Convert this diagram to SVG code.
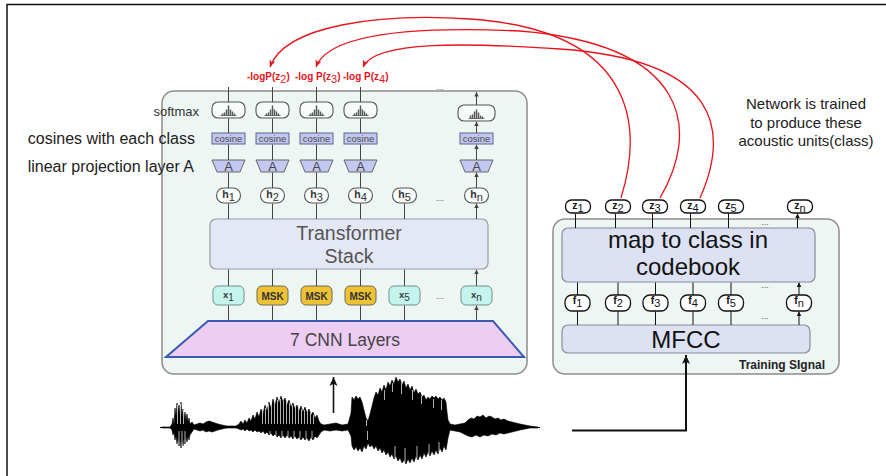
<svg xmlns="http://www.w3.org/2000/svg" width="886" height="476" viewBox="0 0 886 476">
  <defs>
    <style>
      text { font-family: "Liberation Sans", Arial, sans-serif; }
      .panel { fill: #eef6f3; stroke: #8c8c8c; stroke-width: 1.5; }
      .lnk { stroke: #444; stroke-width: 1; fill: none; marker-end: url(#ah); }
      .lnkb { stroke: #111; stroke-width: 1; fill: none; marker-end: url(#ahb); }
      .red { stroke: #e8141c; stroke-width: 1.3; fill: none; marker-end: url(#ahr); }
      .sm { fill: #f7fbf9; stroke: #555; stroke-width: 1.1; }
      .cos { fill: #c2c7f0; stroke: #5f658f; stroke-width: 1; }
      .cost { font-size: 9.5px; fill: #4a4a4a; text-anchor: middle; }
      .trap { fill: #c3c8f1; stroke: #666; stroke-width: 1; }
      .at { font-size: 13px; fill: #444; text-anchor: middle; }
      .hn { fill: #f7fbf9; stroke: #555; stroke-width: 1.1; }
      .lbl { font-size: 10.5px; font-weight: bold; fill: #333; text-anchor: middle; }
      .sub { font-weight: normal; font-size: 11px; }
      .xn { fill: #c4f4ee; stroke: #6f8f8c; stroke-width: 1; }
      .msk { fill: #efc233; stroke: #6b6b5a; stroke-width: 1; }
      .zn { fill: #ffffff; stroke: #111; stroke-width: 1.3; }
      .blk { font-size: 10.5px; font-weight: bold; fill: #111; text-anchor: middle; }
      .dots { font-size: 9px; fill: #555; text-anchor: middle; }
      .side { font-size: 16px; fill: #222; text-anchor: end; }
      .rl { font-size: 10px; font-weight: bold; fill: #e8141c; }
      .gap { stroke: #fff; stroke-width: 0.7; fill: none; }
    </style>
    <marker id="ah" viewBox="0 0 6 6" refX="6" refY="3" markerWidth="4.5" markerHeight="4.5" markerUnits="userSpaceOnUse" orient="auto">
      <path d="M0,0 L6,3 L0,6 z" fill="#444"/>
    </marker>
    <marker id="ahb" viewBox="0 0 6 6" refX="6" refY="3" markerWidth="4.5" markerHeight="4.5" markerUnits="userSpaceOnUse" orient="auto">
      <path d="M0,0 L6,3 L0,6 z" fill="#111"/>
    </marker>
    <marker id="ahr" viewBox="0 0 8 8" refX="8" refY="4" markerWidth="7" markerHeight="7" markerUnits="userSpaceOnUse" orient="auto">
      <path d="M0,0.5 L8,4 L0,7.5 L2,4 z" fill="#e8141c"/>
    </marker>
    <marker id="ahbig" viewBox="0 0 10 10" refX="10" refY="5" markerWidth="9" markerHeight="9" markerUnits="userSpaceOnUse" orient="auto">
      <path d="M0,0.5 L10,5 L0,9.5 L2.5,5 z" fill="#111"/>
    </marker>
    <!-- small histogram glyph drawn inside a softmax node -->
    <g id="bars" stroke="#555" fill="none">
      <path d="M-8 5.5 H8" stroke-width="0.8"/>
      <path d="M-6 5.5v-2 M-4 5.5v-3 M-2 5.5v-6 M0 5.5v-10 M2 5.5v-6 M4 5.5v-4 M6 5.5v-2" stroke-width="1.4"/>
    </g>
    <g id="bars2" stroke="#555" fill="none">
      <path d="M-8 5.5 H8" stroke-width="0.8"/>
      <path d="M-6 5.5v-3 M-4 5.5v-4 M-2 5.5v-7 M0 5.5v-9 M2 5.5v-6 M4 5.5v-3 M6 5.5v-2" stroke-width="1.4"/>
    </g>
  </defs>

  <rect width="886" height="476" fill="#ffffff"/>
  <!-- page frame -->
  <path d="M7 476 V4.5 H886" fill="none" stroke="#111" stroke-width="1.5"/>

  <!-- encoder panel -->
  <g id="encoder-panel">
    <rect class="panel" x="162" y="91" width="365" height="283" rx="12"/>
  </g>

  <!-- side captions -->
  <g id="captions">
    <text class="side" x="199" y="116" style="font-size:13px;fill:#333">softmax</text>
    <text class="side" x="195" y="144">cosines with each class</text>
    <text class="side" x="194" y="172">linear projection layer A</text>
  </g>

  <!-- softmax nodes -->
  <g id="softmax-1"><rect class="sm" x="212" y="102" width="33" height="16" rx="6"/><use href="#bars" x="228.5" y="110"/></g>
  <g id="softmax-2"><rect class="sm" x="256" y="102" width="33" height="16" rx="6"/><use href="#bars" x="272.5" y="110"/></g>
  <g id="softmax-3"><rect class="sm" x="300" y="102" width="33" height="16" rx="6"/><use href="#bars" x="316.5" y="110"/></g>
  <g id="softmax-4"><rect class="sm" x="344" y="102" width="33" height="16" rx="6"/><use href="#bars" x="360.5" y="110"/></g>
  <g id="softmax-n"><rect class="sm" x="458" y="105" width="37" height="16" rx="6"/><use href="#bars2" x="476.5" y="113"/></g>

  <!-- cosine nodes -->
  <g id="cosine-1"><rect class="cos" x="212" y="133" width="33" height="11"/><text class="cost" x="228.5" y="141.8">cosine</text></g>
  <g id="cosine-2"><rect class="cos" x="256" y="133" width="33" height="11"/><text class="cost" x="272.5" y="141.8">cosine</text></g>
  <g id="cosine-3"><rect class="cos" x="300" y="133" width="33" height="11"/><text class="cost" x="316.5" y="141.8">cosine</text></g>
  <g id="cosine-4"><rect class="cos" x="344" y="133" width="33" height="11"/><text class="cost" x="360.5" y="141.8">cosine</text></g>
  <g id="cosine-n"><rect class="cos" x="460" y="133" width="33" height="11"/><text class="cost" x="476.5" y="141.8">cosine</text></g>

  <!-- projection layer A -->
  <g id="proj-1"><polygon class="trap" points="212,160 245,160 240,172 217,172"/><text class="at" x="228.5" y="171">A</text></g>
  <g id="proj-2"><polygon class="trap" points="256,160 289,160 284,172 261,172"/><text class="at" x="272.5" y="171">A</text></g>
  <g id="proj-3"><polygon class="trap" points="300,160 333,160 328,172 305,172"/><text class="at" x="316.5" y="171">A</text></g>
  <g id="proj-4"><polygon class="trap" points="344,160 377,160 372,172 349,172"/><text class="at" x="360.5" y="171">A</text></g>
  <g id="proj-n"><polygon class="trap" points="460,160 493,160 488,172 465,172"/><text class="at" x="476.5" y="171">A</text></g>

  <!-- hidden states h -->
  <g id="h-1"><rect class="hn" x="216.5" y="188" width="24" height="15" rx="7.5"/><text class="lbl" x="228.5" y="198">h<tspan class="sub" dy="3">1</tspan></text></g>
  <g id="h-2"><rect class="hn" x="260.5" y="188" width="24" height="15" rx="7.5"/><text class="lbl" x="272.5" y="198">h<tspan class="sub" dy="3">2</tspan></text></g>
  <g id="h-3"><rect class="hn" x="304.5" y="188" width="24" height="15" rx="7.5"/><text class="lbl" x="316.5" y="198">h<tspan class="sub" dy="3">3</tspan></text></g>
  <g id="h-4"><rect class="hn" x="348.5" y="188" width="24" height="15" rx="7.5"/><text class="lbl" x="360.5" y="198">h<tspan class="sub" dy="3">4</tspan></text></g>
  <g id="h-5"><rect class="hn" x="392.5" y="188" width="24" height="15" rx="7.5"/><text class="lbl" x="404.5" y="198">h<tspan class="sub" dy="3">5</tspan></text></g>
  <g id="h-n"><rect class="hn" x="464.5" y="188" width="24" height="15" rx="7.5"/><text class="lbl" x="476.5" y="198">h<tspan class="sub" dy="3">n</tspan></text></g>

  <!-- transformer -->
  <g id="transformer">
    <rect x="210" y="219" width="278" height="50" rx="6" fill="#e3e8f4" stroke="#9a9aa6" stroke-width="1.2"/>
    <text x="349" y="240" text-anchor="middle" style="font-size:19.5px;fill:#555">Transformer</text>
    <text x="349" y="263" text-anchor="middle" style="font-size:19.5px;fill:#555">Stack</text>
  </g>

  <!-- inputs x / masked -->
  <g id="x-1"><rect class="xn" x="213" y="286" width="31" height="19" rx="5"/><text class="lbl" x="228.5" y="297.5" style="font-size:9.5px">x<tspan class="sub" dy="3" style="font-size:10px">1</tspan></text></g>
  <g id="msk-2"><rect class="msk" x="257" y="286" width="31" height="19" rx="5"/><text class="lbl" x="272.5" y="299.5" style="font-size:10px">MSK</text></g>
  <g id="msk-3"><rect class="msk" x="301" y="286" width="31" height="19" rx="5"/><text class="lbl" x="316.5" y="299.5" style="font-size:10px">MSK</text></g>
  <g id="msk-4"><rect class="msk" x="345" y="286" width="31" height="19" rx="5"/><text class="lbl" x="360.5" y="299.5" style="font-size:10px">MSK</text></g>
  <g id="x-5"><rect class="xn" x="389" y="286" width="31" height="19" rx="5"/><text class="lbl" x="404.5" y="297.5" style="font-size:9.5px">x<tspan class="sub" dy="3" style="font-size:10px">5</tspan></text></g>
  <g id="x-n"><rect class="xn" x="461" y="286" width="31" height="19" rx="5"/><text class="lbl" x="476.5" y="297.5" style="font-size:9.5px">x<tspan class="sub" dy="3" style="font-size:10px">n</tspan></text></g>

  <!-- feature encoder -->
  <g id="cnn">
    <polygon points="208,321 493,321 524,357 166,357" fill="#eecdf2" stroke="#3a5bb5" stroke-width="2"/>
    <text x="345" y="346" text-anchor="middle" style="font-size:17.5px;fill:#444">7 CNN Layers</text>
  </g>

  <!-- ellipses in encoder -->
  <g id="ellipses-left">
    <text class="dots" x="440" y="90">...</text>
    <text class="dots" x="440" y="201">...</text>
    <text class="dots" x="440" y="299">...</text>
  </g>

  <!-- loss labels -->
  <g id="loss-labels">
    <text class="rl" x="247" y="80">-logP(z<tspan class="sub" dy="3">2</tspan><tspan dy="-3">)</tspan></text>
    <text class="rl" x="295" y="80">-log P(z<tspan class="sub" dy="3">3</tspan><tspan dy="-3">)</tspan></text>
    <text class="rl" x="343" y="80">-log P(z<tspan class="sub" dy="3">4</tspan><tspan dy="-3">)</tspan></text>
  </g>

  <!-- target panel -->
  <g id="target-panel">
    <rect class="panel" x="553" y="219" width="286" height="155" rx="12"/>
    <text x="825" y="369" text-anchor="end" style="font-size:12px;font-weight:bold;fill:#222">Training SIgnal</text>
  </g>

  <g id="z-1"><rect class="zn" x="565.5" y="200" width="25" height="13" rx="6"/><text class="blk" x="578" y="209">z<tspan class="sub" dy="3">1</tspan></text></g>
  <g id="z-2"><rect class="zn" x="605.5" y="200" width="25" height="13" rx="6"/><text class="blk" x="618" y="209">z<tspan class="sub" dy="3">2</tspan></text></g>
  <g id="z-3"><rect class="zn" x="642.5" y="200" width="25" height="13" rx="6"/><text class="blk" x="655" y="209">z<tspan class="sub" dy="3">3</tspan></text></g>
  <g id="z-4"><rect class="zn" x="680.5" y="200" width="25" height="13" rx="6"/><text class="blk" x="693" y="209">z<tspan class="sub" dy="3">4</tspan></text></g>
  <g id="z-5"><rect class="zn" x="718.5" y="200" width="25" height="13" rx="6"/><text class="blk" x="731" y="209">z<tspan class="sub" dy="3">5</tspan></text></g>
  <g id="z-n"><rect class="zn" x="787.5" y="200" width="25" height="13" rx="6"/><text class="blk" x="800" y="209">z<tspan class="sub" dy="3">n</tspan></text></g>

  <g id="codebook">
    <rect x="562" y="228" width="253" height="54" rx="6" fill="#dde1f4" stroke="#8a8a9a" stroke-width="1.2"/>
    <text x="688" y="248" text-anchor="middle" style="font-size:24px;fill:#111">map to class in</text>
    <text x="688" y="275" text-anchor="middle" style="font-size:24px;fill:#111">codebook</text>
  </g>

  <g id="f-1"><rect class="zn" x="565" y="295" width="25" height="16" rx="7"/><text class="blk" x="577.5" y="304">f<tspan class="sub" dy="3">1</tspan></text></g>
  <g id="f-2"><rect class="zn" x="605.5" y="295" width="25" height="16" rx="7"/><text class="blk" x="618" y="304">f<tspan class="sub" dy="3">2</tspan></text></g>
  <g id="f-3"><rect class="zn" x="643" y="295" width="25" height="16" rx="7"/><text class="blk" x="655.5" y="304">f<tspan class="sub" dy="3">3</tspan></text></g>
  <g id="f-4"><rect class="zn" x="680.5" y="295" width="25" height="16" rx="7"/><text class="blk" x="693" y="304">f<tspan class="sub" dy="3">4</tspan></text></g>
  <g id="f-5"><rect class="zn" x="718.5" y="295" width="25" height="16" rx="7"/><text class="blk" x="731" y="304">f<tspan class="sub" dy="3">5</tspan></text></g>
  <g id="f-n"><rect class="zn" x="786.5" y="295" width="25" height="16" rx="7"/><text class="blk" x="799" y="304">f<tspan class="sub" dy="3">n</tspan></text></g>

  <g id="mfcc">
    <rect x="562" y="325" width="248" height="28" rx="6" fill="#dde1f4" stroke="#8a8a9a" stroke-width="1.2"/>
    <text x="686" y="348" text-anchor="middle" style="font-size:24px;fill:#111">MFCC</text>
  </g>

  <g id="ellipses-right">
    <text class="dots" x="765" y="225">...</text>
    <text class="dots" x="765" y="288">...</text>
    <text class="dots" x="765" y="319">...</text>
  </g>

  <g id="note">
    <text x="806" y="109" text-anchor="middle" style="font-size:15px;fill:#222">Network is trained</text>
    <text x="806" y="127.5" text-anchor="middle" style="font-size:15px;fill:#222">to produce these</text>
    <text x="806" y="146" text-anchor="middle" style="font-size:15px;fill:#222">acoustic units(class)</text>
  </g>

  <!-- speech waveform -->
  <g id="waveform">
    <path fill="#000" stroke="#000" stroke-width="0.6" stroke-linejoin="miter" d="M162 427 L170 427 172 424 173 418 174 425 175 408 176 416 177 403 178 412 179 405 180 414 181 402 182 416 183 409 184 419 185 412 186 421 187 414 188 422 189 418 190 424 192 422 194 425 197 424 200 423 203 424 206 422 209 421 212 422 215 423 218 424 222 425 227 426 236 426 239 424 241 421 243 424 245 420 247 423 249 418 251 421 253 415 255 419 257 412 259 417 261 409 263 414 265 405 267 411 269 402 271 408 273 399 275 405 277 397 279 403 281 396 283 402 285 398 287 405 289 400 291 407 293 403 295 409 297 405 299 411 301 406 303 412 305 407 307 413 309 409 311 415 313 412 315 418 317 415 319 421 321 424 324 425 330 424 336 423 342 425 348 424 351 413 352 397 354 400 356 396 358 399 360 397 362 402 364 410 366 418 368 421 370 414 372 406 374 398 376 392 378 395 380 388 382 392 384 385 386 390 388 382 390 386 392 380 394 384 396 377 398 382 400 379 402 385 404 381 406 388 408 384 410 390 412 386 414 393 416 389 418 394 420 392 422 397 424 395 426 400 428 397 430 399 432 396 434 398 436 396 438 399 440 397 442 400 444 398 446 402 447 412 448 420 450 424 455 425 460 424 465 423 468 420 471 418 474 419 477 416 480 417 483 415 486 418 489 416 492 417 495 419 498 418 501 420 504 419 508 421 512 422 516 423 520 424 525 425 530 426 538 427 L538 428 530 428 525 429 520 430 516 431 512 432 508 433 504 434 500 433 496 435 492 434 488 436 484 435 480 437 476 435 472 437 468 436 464 434 460 432 455 431 450 430 448 438 446 450 444 446 442 452 440 448 438 454 436 450 434 455 432 451 430 456 428 452 426 457 424 453 422 459 420 455 418 460 416 456 414 462 412 458 410 463 408 459 406 464 404 460 402 463 400 458 398 461 396 456 394 459 392 454 390 457 388 452 386 455 384 450 382 453 380 448 378 451 376 446 374 449 372 445 370 447 368 443 366 449 364 446 362 452 360 448 358 451 356 447 354 450 352 446 351 436 348 430 342 431 336 430 330 431 324 430 321 432 319 435 317 438 315 436 313 440 311 437 309 441 307 438 305 440 303 437 301 440 299 437 297 439 295 436 293 439 291 436 289 438 287 435 285 438 283 435 281 438 279 435 277 437 275 434 273 436 271 433 269 435 267 432 265 434 263 431 261 433 259 431 257 432 255 430 253 432 251 430 249 431 247 429 245 431 243 429 241 430 239 429 236 428 227 428 222 429 218 430 215 431 212 432 209 431 206 432 203 430 200 431 197 430 194 429 192 432 190 435 189 440 188 436 187 442 186 437 185 444 184 439 183 446 182 441 181 448 180 440 179 446 178 438 177 444 176 436 175 440 174 432 173 435 172 430 170 428 162 428 Z"/>
    <!-- striations inside the louder segments -->
    <path class="gap" d="M177.5 405 V424 M180.5 404 V424 M183.5 410 V424 M179 431 V444 M182 431 V446 M185 431 V442
      M262.5 412 V424 M265.5 408 V424 M268.5 404 V424 M271.5 402 V424 M274.5 401 V424 M277.5 400 V424 M280.5 399 V424 M283.5 401 V424 M286.5 402 V424 M289.5 403 V424 M292.5 405 V424 M295.5 407 V424 M298.5 408 V424 M301.5 409 V424 M304.5 410 V424 M307.5 411 V424 M310.5 413 V424 M313.5 415 V424
      M270 431 V434 M276 431 V436 M282 431 V437 M288 431 V437 M294 431 V438 M300 431 V438 M306 431 V439 M312 431 V438
      M366.5 420 V426 M367.5 431 V440 M384.5 390 V400 M392.5 383 V392 M401.5 383 V394 M412.5 390 V400 M421.5 396 V404 M433.5 399 V408 M441.5 400 V410
      M395 446 V458 M405 448 V462 M417 446 V458 M429 444 V454 M439 442 V452"/>
    <path d="M160 427.5 H540" stroke="#000" stroke-width="1"/>
  </g>

  <!-- connectors -->
  <g id="connectors">
    <!-- encoder column arrows -->
    <path class="lnk" d="M228.5 320 V305.5 M272.5 320 V305.5 M316.5 320 V305.5 M360.5 320 V305.5 M404.5 320 V305.5 M476.5 320 V305.5"/>
    <path class="lnk" d="M228.5 286 V269.5 M272.5 286 V269.5 M316.5 286 V269.5 M360.5 286 V269.5 M404.5 286 V269.5 M476.5 286 V269.5"/>
    <path class="lnk" d="M228.5 219 V203.5 M272.5 219 V203.5 M316.5 219 V203.5 M360.5 219 V203.5 M404.5 219 V203.5 M476.5 219 V203.5"/>
    <path class="lnk" d="M228.5 188 V172.5 M272.5 188 V172.5 M316.5 188 V172.5 M360.5 188 V172.5 M476.5 188 V172.5"/>
    <path class="lnk" d="M228.5 160 V144.5 M272.5 160 V144.5 M316.5 160 V144.5 M360.5 160 V144.5 M476.5 160 V144.5"/>
    <path class="lnk" d="M228.5 133 V118.5 M272.5 133 V118.5 M316.5 133 V118.5 M360.5 133 V118.5 M476.5 133 V121.5"/>
    <path class="lnk" d="M228.5 102 V87 M272.5 102 V87 M316.5 102 V87 M360.5 102 V87 M476.5 105 V92"/>
    <!-- target column arrows -->
    <path class="lnkb" d="M577.5 325 V311.5 M618 325 V311.5 M655.5 325 V311.5 M693 325 V311.5 M731 325 V311.5 M799 325 V311.5"/>
    <path class="lnkb" d="M577.5 295 V282.5 M618 295 V282.5 M655.5 295 V282.5 M693 295 V282.5 M731 295 V282.5 M799 295 V282.5"/>
    <path class="lnkb" d="M575.5 228 V213.5 M615.5 228 V213.5 M652.5 228 V213.5 M690.5 228 V213.5 M728.5 228 V213.5 M797.5 228 V213.5"/>
    <!-- waveform into encoder and into MFCC -->
    <path d="M333.5 413 V377" stroke="#111" stroke-width="1.6" fill="none" marker-end="url(#ahbig)"/>
    <path d="M572 430.5 H686 V355" stroke="#111" stroke-width="2" fill="none" marker-end="url(#ahbig)"/>
    <!-- targets back to the losses -->
    <path class="red" d="M621 198 C645 120, 630 30, 470 19 C380 13, 285 25, 270 67"/>
    <path class="red" d="M660 198 C700 130, 690 45, 520 31 C430 27, 330 30, 316 67"/>
    <path class="red" d="M700 198 C730 130, 720 60, 560 49 C470 43, 375 40, 363 67"/>
  </g>
</svg>
